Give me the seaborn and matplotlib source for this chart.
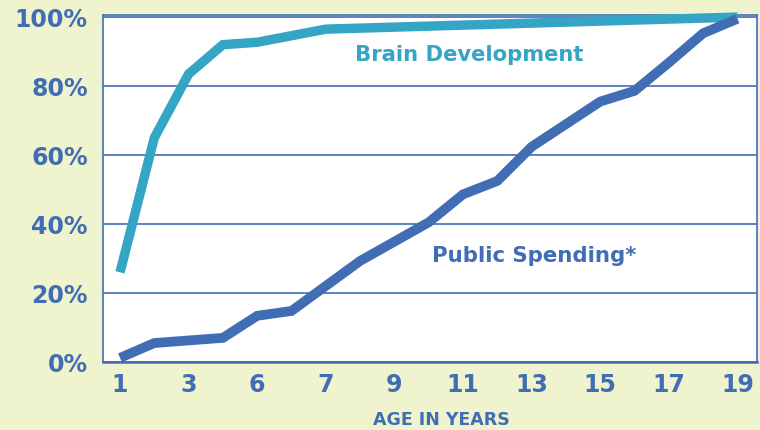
import pandas as pd
import matplotlib
matplotlib.use("Agg")
import matplotlib.pyplot as plt
import seaborn as sns

# -------------------------------
# Data
# -------------------------------

brain_age = [1, 2, 3, 4, 5, 7, 19]
brain_pct = [26, 65, 83.5, 92, 92.7, 96.5, 100]

spend_age = [1, 2, 4, 5, 6, 8, 10, 11, 12, 13, 15, 16, 17, 18, 19]
spend_pct = [1.2, 5.5, 7, 13.4, 14.8, 29.3, 40.5, 48.6, 52.5, 62.4,
             75.5, 78.6, 86.8, 95.3, 99.5]

tick_pos = [1, 3, 5, 7, 9, 11, 13, 15, 17, 19]
tick_labels = ["1", "3", "6", "7", "9", "11", "13", "15", "17", "19"]
y_ticks = [0, 20, 40, 60, 80, 100]

brain = pd.DataFrame({"age": brain_age, "pct": brain_pct})
spend = pd.DataFrame({"age": spend_age, "pct": spend_pct})

# -------------------------------
# Style
# -------------------------------

BG = "#EFF4CE"
BLUE = "#416DB5"
CYAN = "#35A5C5"

sns.set_theme(style="white")
plt.rcParams["font.family"] = ["DejaVu Sans"]

fig = plt.figure(figsize=(7.6, 4.3), dpi=100, facecolor=BG)
ax = fig.add_axes([103 / 760, 68 / 430, 654 / 760, 347 / 430])
ax.set_facecolor("white")

# -------------------------------
# Lines
# -------------------------------

sns.lineplot(data=brain, x="age", y="pct", ax=ax, color=CYAN,
             linewidth=6.8, solid_capstyle="butt", solid_joinstyle="miter",
             clip_on=False, zorder=3)
sns.lineplot(data=spend, x="age", y="pct", ax=ax, color=BLUE,
             linewidth=7, solid_capstyle="butt", solid_joinstyle="miter",
             clip_on=False, zorder=4)

ax.text(11.18, 89, "Brain Development", color=CYAN, fontsize=15.2,
        fontweight="bold", ha="center", va="center")
ax.text(13.08, 30.7, "Public Spending*", color=BLUE, fontsize=15.3,
        fontweight="bold", ha="center", va="center")

# -------------------------------
# Axes
# -------------------------------

ax.set_xlim(0.504, 19.57)
ax.set_ylim(0, 100.6)

ax.set_xticks(tick_pos)
ax.set_xticklabels(tick_labels)
ax.set_yticks(y_ticks)
ax.set_yticklabels([f"{v}%" for v in y_ticks])

ax.tick_params(axis="both", length=0, labelcolor=BLUE, labelsize=17)
ax.tick_params(axis="x", pad=8)
ax.tick_params(axis="y", pad=11)
for lab in ax.get_xticklabels() + ax.get_yticklabels():
    lab.set_fontweight("bold")

ax.yaxis.grid(True, color=BLUE, linewidth=1.2)
ax.xaxis.grid(False)
ax.set_axisbelow(True)

for side, sp in ax.spines.items():
    sp.set_visible(True)
    sp.set_color(BLUE)
    sp.set_linewidth(1.2)
ax.spines["bottom"].set_linewidth(1.8)

ax.set_ylabel("")
ax.set_xlabel("AGE IN YEARS", color=BLUE, fontsize=12.5, fontweight="bold")
ax.xaxis.set_label_coords(0.518, -0.14)

fig.savefig("out.png", dpi=100, facecolor=BG)
